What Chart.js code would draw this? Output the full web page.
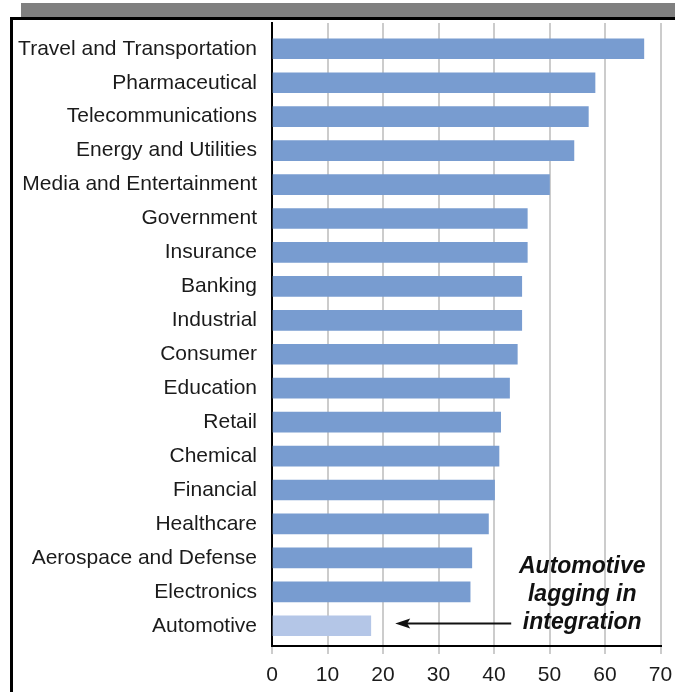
<!DOCTYPE html>
<html>
<head>
<meta charset="utf-8">
<script src="https://cdn.jsdelivr.net/npm/chart.js"></script>
<style>
  body { margin: 0; background: #fff; }
  #strip { position: absolute; left: 21px; top: 3px; width: 660px; height: 14px; background: #808080; }
  #frame { position: absolute; left: 10px; top: 17px; width: 700px; height: 720px; border: 3px solid #000; box-sizing: border-box; }
  #chart { position: absolute; left: 0; top: 0; }
</style>
</head>
<body>
<div id="strip"></div>
<div id="frame"></div>
<canvas id="chart" width="675" height="692"></canvas>

<script>
const industries = [
  'Travel and Transportation', 'Pharmaceutical', 'Telecommunications', 'Energy and Utilities',
  'Media and Entertainment', 'Government', 'Insurance', 'Banking', 'Industrial', 'Consumer',
  'Education', 'Retail', 'Chemical', 'Financial', 'Healthcare', 'Aerospace and Defense',
  'Electronics', 'Automotive'
];
const scores = [67, 58.2, 57, 54.4, 50, 46, 46, 45, 45, 44.2, 42.8, 41.2, 40.9, 40.1, 39, 36, 35.7, 17.8];
const xTicks = [0, 10, 20, 30, 40, 50, 60, 70];
const noteLines = ['Automotive', 'lagging in', 'integration'];

const BAR = '#789cd0';
const BAR_LIGHT = '#b4c6e7';
const TEXT = '#1b1b1b';

Chart.defaults.font.family = '"Liberation Sans", Arial, sans-serif';

// callout text + arrow pointing at the last bar
const callout = {
  id: 'callout',
  afterDatasetsDraw(chart) {
    const ctx = chart.ctx;
    const x = chart.scales.x, y = chart.scales.y;
    const last = industries.length - 1;
    ctx.save();
    ctx.fillStyle = '#111';
    ctx.font = 'italic bold 23px "Liberation Sans", Arial, sans-serif';
    ctx.textAlign = 'center';
    ctx.textBaseline = 'middle';
    const cx = x.getPixelForValue(55.9);
    const rows = [last - 1.73, last - 0.91, last - 0.08];
    noteLines.forEach((t, i) => ctx.fillText(t, cx, y.getPixelForValue(rows[i])));

    const ay = y.getPixelForValue(last - 0.07);
    const x0 = x.getPixelForValue(43.1);
    const x1 = x.getPixelForValue(22.2);
    ctx.strokeStyle = '#111';
    ctx.lineWidth = 2;
    ctx.beginPath();
    ctx.moveTo(x0, ay);
    ctx.lineTo(x1 + 10, ay);
    ctx.stroke();
    ctx.beginPath();
    ctx.moveTo(x1, ay);
    ctx.lineTo(x1 + 15, ay - 5);
    ctx.lineTo(x1 + 12, ay);
    ctx.lineTo(x1 + 15, ay + 5);
    ctx.closePath();
    ctx.fill();
    ctx.restore();
  }
};

new Chart(document.getElementById('chart'), {
  type: 'bar',
  data: {
    datasets: [{
      data: scores.map((v, i) => ({ x: v, y: i })),
      backgroundColor: scores.map((v, i) => i === industries.length - 1 ? BAR_LIGHT : BAR),
      borderWidth: 0,
      barThickness: 20
    }]
  },
  options: {
    indexAxis: 'y',
    responsive: false,
    animation: false,
    layout: { padding: { top: 23, right: 14.5, bottom: 0, left: 0 } },
    plugins: { legend: { display: false }, tooltip: { enabled: false } },
    scales: {
      x: {
        type: 'linear',
        min: xTicks[0],
        max: xTicks[xTicks.length - 1],
        afterBuildTicks: s => { s.ticks = xTicks.map(v => ({ value: v })); },
        afterFit: s => { s.height = 46; s.paddingLeft = 0; s.paddingRight = 0; },
        grid: { color: '#cccccc', lineWidth: 2, tickLength: 8 },
        border: { display: true, color: '#000', width: 2 },
        ticks: { color: TEXT, font: { size: 21 }, padding: 9, maxRotation: 0 }
      },
      y: {
        type: 'linear',
        reverse: true,
        offset: false,
        min: -0.76,
        max: 17.596,
        afterFit: s => { s.width = 272; s.paddingTop = 0; s.paddingBottom = 0; },
        grid: { display: false, drawTicks: false, offset: false },
        border: { display: true, color: '#000', width: 2 },
        ticks: {
          stepSize: 1,
          includeBounds: false,
          autoSkip: false,
          color: TEXT,
          font: { size: 21 },
          padding: 15,
          callback: v => Number.isInteger(v) ? industries[v] : ''
        }
      }
    }
  },
  plugins: [callout]
});
</script>
</body>
</html>
